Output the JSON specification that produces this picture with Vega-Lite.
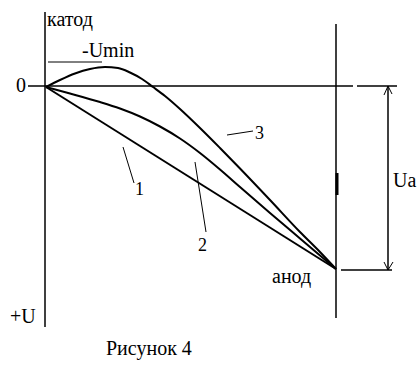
{
  "$schema": "https://vega.github.io/schema/vega-lite/v6.json",
  "width": 419,
  "height": 370,
  "padding": 0,
  "autosize": {"type": "none"},
  "background": "white",
  "config": {"view": {"stroke": null}},
  "datasets": {
    "frame": [
      {"x1": 45, "y1": 12, "x2": 45, "y2": 327},
      {"x1": 28, "y1": 86, "x2": 353, "y2": 86},
      {"x1": 357, "y1": 86, "x2": 397, "y2": 86},
      {"x1": 336, "y1": 24, "x2": 336, "y2": 318},
      {"x1": 388, "y1": 86, "x2": 388, "y2": 270},
      {"x1": 341, "y1": 270, "x2": 392, "y2": 270}
    ],
    "thin": [
      {"x1": 48, "y1": 62, "x2": 102, "y2": 62},
      {"x1": 123, "y1": 147, "x2": 134, "y2": 183},
      {"x1": 195, "y1": 162, "x2": 206, "y2": 232},
      {"x1": 227, "y1": 135, "x2": 253, "y2": 131},
      {"x1": 388, "y1": 86, "x2": 384, "y2": 95},
      {"x1": 388, "y1": 86, "x2": 392, "y2": 94},
      {"x1": 388, "y1": 270, "x2": 384, "y2": 262},
      {"x1": 388, "y1": 270, "x2": 393, "y2": 262}
    ],
    "mark": [
      {"x1": 337, "y1": 173, "x2": 337, "y2": 195}
    ],
    "curves": [
      {"curve": "1", "x": 46, "y": 87},
      {"curve": "1", "x": 336, "y": 269},
      {"curve": "2", "x": 46, "y": 87},
      {"curve": "2", "x": 70, "y": 93.5},
      {"curve": "2", "x": 100, "y": 102},
      {"curve": "2", "x": 120, "y": 108.5},
      {"curve": "2", "x": 140, "y": 116.5},
      {"curve": "2", "x": 160, "y": 126.5},
      {"curve": "2", "x": 180, "y": 138.5},
      {"curve": "2", "x": 200, "y": 153},
      {"curve": "2", "x": 220, "y": 169.5},
      {"curve": "2", "x": 240, "y": 187},
      {"curve": "2", "x": 270, "y": 213},
      {"curve": "2", "x": 300, "y": 238.5},
      {"curve": "2", "x": 336, "y": 269},
      {"curve": "3", "x": 46, "y": 87},
      {"curve": "3", "x": 60, "y": 80},
      {"curve": "3", "x": 75, "y": 73.5},
      {"curve": "3", "x": 90, "y": 69},
      {"curve": "3", "x": 105, "y": 67},
      {"curve": "3", "x": 118, "y": 68},
      {"curve": "3", "x": 130, "y": 72.5},
      {"curve": "3", "x": 142, "y": 79},
      {"curve": "3", "x": 153, "y": 87},
      {"curve": "3", "x": 165, "y": 96},
      {"curve": "3", "x": 180, "y": 109},
      {"curve": "3", "x": 200, "y": 128},
      {"curve": "3", "x": 220, "y": 148},
      {"curve": "3", "x": 240, "y": 168.5},
      {"curve": "3", "x": 270, "y": 200},
      {"curve": "3", "x": 300, "y": 232},
      {"curve": "3", "x": 320, "y": 252},
      {"curve": "3", "x": 336, "y": 269}
    ],
    "labels": [
      {"t": "катод", "x": 47, "y": 26},
      {"t": "-Umin", "x": 82, "y": 57},
      {"t": "0", "x": 16, "y": 92},
      {"t": "+U", "x": 10, "y": 323},
      {"t": "анод", "x": 272, "y": 283},
      {"t": "Ua", "x": 393, "y": 187},
      {"t": "Рисунок 4", "x": 106, "y": 355}
    ],
    "numbers": [
      {"t": "1", "x": 135, "y": 195},
      {"t": "2", "x": 198, "y": 251},
      {"t": "3", "x": 255, "y": 139}
    ]
  },
  "layer": [
    {
      "data": {"name": "frame"},
      "mark": {"type": "rule", "color": "black", "strokeWidth": 1.5},
      "encoding": {
        "x": {"field": "x1", "type": "quantitative", "scale": {"domain": [0, 419], "nice": false, "zero": false}, "axis": null},
        "x2": {"field": "x2"},
        "y": {"field": "y1", "type": "quantitative", "scale": {"domain": [0, 370], "nice": false, "zero": false, "reverse": true}, "axis": null},
        "y2": {"field": "y2"}
      }
    },
    {
      "data": {"name": "thin"},
      "mark": {"type": "rule", "color": "black", "strokeWidth": 1},
      "encoding": {
        "x": {"field": "x1", "type": "quantitative", "scale": {"domain": [0, 419], "nice": false, "zero": false}, "axis": null},
        "x2": {"field": "x2"},
        "y": {"field": "y1", "type": "quantitative", "scale": {"domain": [0, 370], "nice": false, "zero": false, "reverse": true}, "axis": null},
        "y2": {"field": "y2"}
      }
    },
    {
      "data": {"name": "mark"},
      "mark": {"type": "rule", "color": "black", "strokeWidth": 3},
      "encoding": {
        "x": {"field": "x1", "type": "quantitative", "scale": {"domain": [0, 419], "nice": false, "zero": false}, "axis": null},
        "x2": {"field": "x2"},
        "y": {"field": "y1", "type": "quantitative", "scale": {"domain": [0, 370], "nice": false, "zero": false, "reverse": true}, "axis": null},
        "y2": {"field": "y2"}
      }
    },
    {
      "data": {"name": "curves"},
      "mark": {"type": "line", "color": "black", "strokeWidth": 2, "interpolate": "monotone"},
      "encoding": {
        "x": {"field": "x", "type": "quantitative", "scale": {"domain": [0, 419], "nice": false, "zero": false}, "axis": null},
        "y": {"field": "y", "type": "quantitative", "scale": {"domain": [0, 370], "nice": false, "zero": false, "reverse": true}, "axis": null},
        "detail": {"field": "curve", "type": "nominal"},
        "order": {"field": "x", "type": "quantitative"}
      }
    },
    {
      "data": {"name": "labels"},
      "mark": {"type": "text", "align": "left", "baseline": "alphabetic", "font": "Liberation Serif", "fontSize": 20, "color": "black"},
      "encoding": {
        "x": {"field": "x", "type": "quantitative", "scale": {"domain": [0, 419], "nice": false, "zero": false}, "axis": null},
        "y": {"field": "y", "type": "quantitative", "scale": {"domain": [0, 370], "nice": false, "zero": false, "reverse": true}, "axis": null},
        "text": {"field": "t", "type": "nominal"}
      }
    },
    {
      "data": {"name": "numbers"},
      "mark": {"type": "text", "align": "left", "baseline": "alphabetic", "font": "Liberation Serif", "fontSize": 18, "color": "black"},
      "encoding": {
        "x": {"field": "x", "type": "quantitative", "scale": {"domain": [0, 419], "nice": false, "zero": false}, "axis": null},
        "y": {"field": "y", "type": "quantitative", "scale": {"domain": [0, 370], "nice": false, "zero": false, "reverse": true}, "axis": null},
        "text": {"field": "t", "type": "nominal"}
      }
    }
  ]
}
